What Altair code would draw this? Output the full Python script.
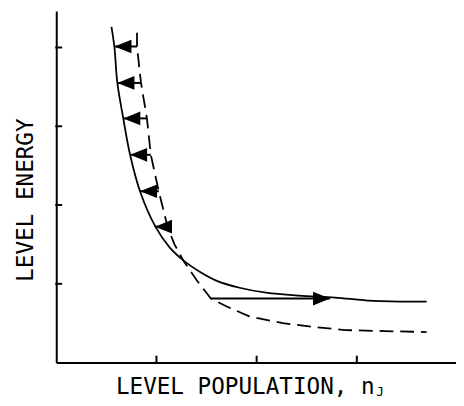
import altair as alt
import pandas as pd

# Solid curve (final population distribution)
solid_x = [0.551, 0.580, 0.610, 0.669, 0.737, 0.836, 0.990, 1.131, 1.278, 1.436, 1.603,
           1.829, 2.094, 2.419, 2.783, 3.107, 3.441, 3.697]
solid_y = [4.2625, 4.0125, 3.55, 3.1, 2.6375, 2.175, 1.725, 1.4625, 1.2875, 1.15, 1.0375,
           0.95, 0.8875, 0.85, 0.825, 0.7875, 0.775, 0.775]

# Dashed curve (initial population distribution)
dash_x = [0.806, 0.806, 0.846, 0.905, 0.944, 1.023, 1.111, 1.180, 1.278, 1.406, 1.544,
          1.701, 1.927, 2.262, 2.586, 2.881, 3.274, 3.697]
dash_y = [4.1875, 4.0125, 3.55, 3.1, 2.6375, 2.175, 1.725, 1.5, 1.275, 1.0375, 0.8125,
          0.7125, 0.5875, 0.5, 0.45, 0.4125, 0.4, 0.3875]

# Left-pointing arrows (dashed -> solid)
arrow_y = [4.0125, 3.55, 3.1, 2.6375, 2.175, 1.725]
arrow_tail = [0.806, 0.846, 0.905, 0.944, 1.023, 1.111]
arrow_tip = [0.580, 0.610, 0.669, 0.737, 0.836, 0.985]

# Right-pointing arrow
right_y = [0.8125]
right_tail = [1.544]
right_tip = [2.733]

x_ticks = [1, 2, 3]
y_ticks = [1, 2, 3, 4]

x_title = ["LEVEL POPULATION, n"]
x_sub = ["J"]
y_title = ["LEVEL ENERGY"]

W, H = 406, 357
XS = alt.Scale(domain=[0, 3.99], nice=False, zero=False)
YS = alt.Scale(domain=[0, 4.4625], nice=False, zero=False)
AX = alt.Axis(labels=False, ticks=False, grid=False, domainColor="black", domainWidth=2)
FONT = "DejaVu Sans Mono"

solid = pd.DataFrame({"x": solid_x, "y": solid_y, "i": range(len(solid_x))})
dash = pd.DataFrame({"x": dash_x, "y": dash_y, "i": range(len(dash_x))})
arrows = pd.DataFrame({"y": arrow_y, "tail": arrow_tail, "tip": arrow_tip})
rarrow = pd.DataFrame({"y": right_y, "tail": right_tail, "tip": right_tip})
xt = pd.DataFrame({"v": x_ticks})
yt = pd.DataFrame({"v": y_ticks})

def X(f):
    return alt.X(f, type="quantitative", scale=XS, axis=AX, title=None)

def Y(f):
    return alt.Y(f, type="quantitative", scale=YS, axis=AX, title=None)

solid_line = alt.Chart(solid).mark_line(color="black", strokeWidth=1.8, interpolate="catmull-rom").encode(
    x=X("x"), y=Y("y"), order="i:Q")
dash_line = alt.Chart(dash).mark_line(color="black", strokeWidth=1.8, strokeDash=[14, 7]).encode(
    x=X("x"), y=Y("y"), order="i:Q")

arrow_rules = alt.Chart(arrows).mark_rule(color="black", strokeWidth=2).encode(
    x=X("tail"), x2="tip", y=Y("y"))
arrow_heads = alt.Chart(arrows).mark_point(
    shape="M0,0L2,-0.8L2,0.8Z", size=300, filled=True, color="black", opacity=1, strokeWidth=0
).encode(x=X("tip"), y=Y("y"))

r_rule = alt.Chart(rarrow).mark_rule(color="black", strokeWidth=2).encode(
    x=X("tail"), x2="tip", y=Y("y"))
r_head = alt.Chart(rarrow).mark_point(
    shape="M0,0L-2,-0.8L-2,0.8Z", size=300, filled=True, color="black", opacity=1, strokeWidth=0
).encode(x=X("tip"), y=Y("y"))

xtick_rules = alt.Chart(xt).mark_rule(color="black", strokeWidth=2).encode(
    x=X("v"), y=alt.value(H), y2=alt.value(H - 7))
ytick_rules = alt.Chart(yt).mark_rule(color="black", strokeWidth=2).encode(
    y=Y("v"), x=alt.value(-1), x2=alt.value(6))

xt_text = alt.Chart(pd.DataFrame({"t": x_title})).mark_text(
    font=FONT, fontSize=23, align="center", baseline="alphabetic", color="black"
).encode(text="t:N", x=alt.value(192), y=alt.value(389))
xs_text = alt.Chart(pd.DataFrame({"t": x_sub})).mark_text(
    font=FONT, fontSize=13, align="left", baseline="alphabetic", color="black"
).encode(text="t:N", x=alt.value(325), y=alt.value(391))
yt_text = alt.Chart(pd.DataFrame({"t": y_title})).mark_text(
    font=FONT, fontSize=23, align="center", baseline="alphabetic", angle=270, color="black"
).encode(text="t:N", x=alt.value(-24), y=alt.value(192))

chart = alt.layer(
    dash_line, solid_line, arrow_rules, arrow_heads, r_rule, r_head,
    xtick_rules, ytick_rules, xt_text, xs_text, yt_text
).properties(
    width=W, height=H,
    padding={"left": 49, "top": 0, "right": 0, "bottom": 41},
    autosize=alt.AutoSizeParams(type="none"),
    background="white",
).configure_view(stroke=None)

chart.save("out.html", embed_options={"renderer": "svg", "actions": False})
